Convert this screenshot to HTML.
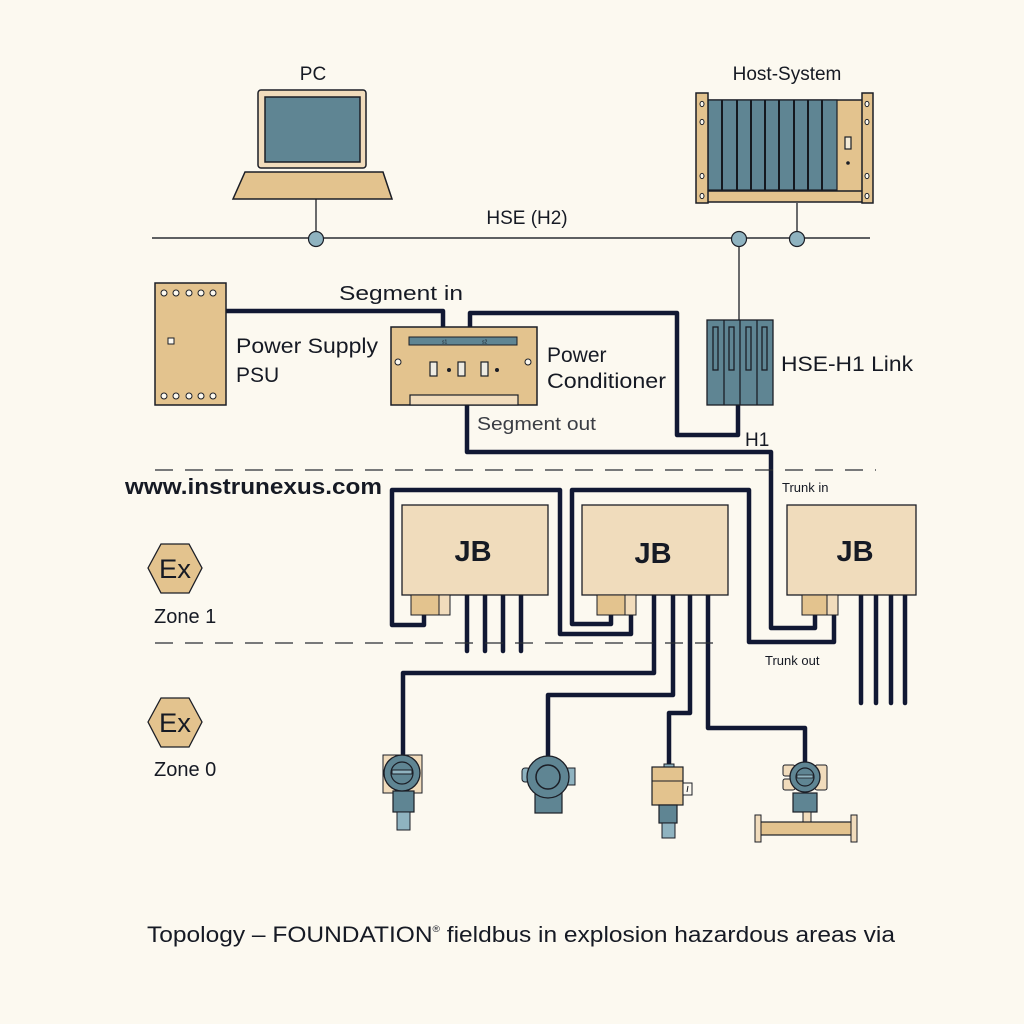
<!DOCTYPE html>
<html>
<head>
<meta charset="utf-8">
<style>
html,body{margin:0;padding:0;background:#fcf9f0;}
svg{display:block;}
text{font-family:"Liberation Sans",Arial,sans-serif;fill:#161a24;}
</style>
</head>
<body>
<svg width="1024" height="1024" viewBox="0 0 1024 1024" xmlns="http://www.w3.org/2000/svg">
<rect width="1024" height="1024" fill="#fcf9f0"/>

<!-- PC -->
<text x="313" y="80" font-size="19" text-anchor="middle">PC</text>
<rect x="258" y="90" width="108" height="78" rx="3" fill="#f1dcbc" stroke="#1b1e26" stroke-width="1.5"/>
<rect x="265" y="97" width="95" height="65" fill="#5f8593" stroke="#1b1e26" stroke-width="1.5"/>
<polygon points="245,172 383,172 392,199 233,199" fill="#e3c38e" stroke="#1b1e26" stroke-width="1.5"/>
<line x1="316" y1="199" x2="316" y2="238" stroke="#1b1e26" stroke-width="1.3"/>

<!-- HSE line -->
<line x1="152" y1="238" x2="870" y2="238" stroke="#2a2d33" stroke-width="1.4"/>
<text x="527" y="224" font-size="19" text-anchor="middle">HSE (H2)</text>

<!-- Host-System -->
<text x="787" y="80" font-size="19" text-anchor="middle">Host-System</text>
<rect x="706" y="100" width="158" height="102" fill="#e3c38e" stroke="#1b1e26" stroke-width="1.5"/>
<rect x="708" y="100" width="129" height="90" fill="#5f8593" stroke="#1b1e26" stroke-width="1.2"/>
<g stroke="#15191f" stroke-width="2">
<line x1="722" y1="100" x2="722" y2="190"/>
<line x1="737" y1="100" x2="737" y2="190"/>
<line x1="751" y1="100" x2="751" y2="190"/>
<line x1="765" y1="100" x2="765" y2="190"/>
<line x1="779" y1="100" x2="779" y2="190"/>
<line x1="794" y1="100" x2="794" y2="190"/>
<line x1="808" y1="100" x2="808" y2="190"/>
<line x1="822" y1="100" x2="822" y2="190"/>
</g>
<line x1="708" y1="191" x2="862" y2="191" stroke="#1b1e26" stroke-width="1.5"/>
<rect x="845" y="137" width="6" height="12" fill="#f3ead6" stroke="#1b1e26" stroke-width="1.2"/>
<circle cx="848" cy="163" r="1.8" fill="#1b1e26"/>
<rect x="696" y="93" width="12" height="110" fill="#e3c38e" stroke="#1b1e26" stroke-width="1.5"/>
<rect x="862" y="93" width="11" height="110" fill="#e3c38e" stroke="#1b1e26" stroke-width="1.5"/>
<g fill="#fcf9f0" stroke="#1b1e26" stroke-width="1">
<ellipse cx="702" cy="104" rx="2" ry="2.6"/><ellipse cx="702" cy="122" rx="2" ry="2.6"/>
<ellipse cx="702" cy="176" rx="2" ry="2.6"/><ellipse cx="702" cy="196" rx="2" ry="2.6"/>
<ellipse cx="867" cy="104" rx="2" ry="2.6"/><ellipse cx="867" cy="122" rx="2" ry="2.6"/>
<ellipse cx="867" cy="176" rx="2" ry="2.6"/><ellipse cx="867" cy="196" rx="2" ry="2.6"/>
</g>
<line x1="797" y1="203" x2="797" y2="238" stroke="#1b1e26" stroke-width="1.3"/>
<line x1="739" y1="238" x2="739" y2="320" stroke="#1b1e26" stroke-width="1.3"/>

<!-- HSE nodes -->
<g fill="#8fb3c0" stroke="#1b1e26" stroke-width="1.2">
<circle cx="316" cy="239" r="7.5"/>
<circle cx="739" cy="239" r="7.5"/>
<circle cx="797" cy="239" r="7.5"/>
</g>

<!-- Thick wires -->
<g fill="none" stroke="#111833" stroke-width="4.5" stroke-linejoin="round" stroke-linecap="round">
<!-- Segment in -->
<polyline points="226,311 443,311 443,327"/>
<!-- H1 to conditioner -->
<polyline points="738,405 738,435 677,435 677,313 470,313 470,327"/>
<!-- segment out / trunk in to JB3 -->
<polyline points="467,405 467,452 771,452 771,628 815,628 815,615"/>
<!-- JB1 loop -->
<polyline points="424,615 424,625 392,625 392,490 560,490 560,634 631,634 631,615"/>
<!-- JB2 loop -->
<polyline points="611,615 611,624 572,624 572,490 749,490 749,642 834,642 834,615"/>
<!-- JB1 drops -->
<line x1="467" y1="595" x2="467" y2="651"/>
<line x1="485" y1="595" x2="485" y2="651"/>
<line x1="503" y1="595" x2="503" y2="651"/>
<line x1="521" y1="595" x2="521" y2="651"/>
<!-- JB2 drops to devices -->
<polyline points="654,595 654,673 403,673 403,755"/>
<polyline points="673,595 673,695 548,695 548,757"/>
<polyline points="690,595 690,713 669,713 669,766"/>
<polyline points="708,595 708,728 805,728 805,764"/>
<!-- JB3 drops -->
<line x1="861" y1="595" x2="861" y2="703"/>
<line x1="876" y1="595" x2="876" y2="703"/>
<line x1="891" y1="595" x2="891" y2="703"/>
<line x1="905" y1="595" x2="905" y2="703"/>
</g>

<!-- PSU -->
<rect x="155" y="283" width="71" height="122" fill="#e3c38e" stroke="#1b1e26" stroke-width="1.5"/>
<g fill="#fcf9f0" stroke="#1b1e26" stroke-width="1">
<circle cx="164" cy="293" r="3"/><circle cx="176" cy="293" r="3"/><circle cx="189" cy="293" r="3"/><circle cx="201" cy="293" r="3"/><circle cx="213" cy="293" r="3"/>
<circle cx="164" cy="396" r="3"/><circle cx="176" cy="396" r="3"/><circle cx="189" cy="396" r="3"/><circle cx="201" cy="396" r="3"/><circle cx="213" cy="396" r="3"/>
<rect x="168" y="338" width="6" height="6"/>
</g>
<text x="236" y="353" font-size="21" textLength="142" lengthAdjust="spacingAndGlyphs">Power Supply</text>
<text x="236" y="382" font-size="21">PSU</text>
<text x="339" y="300" font-size="20" textLength="124" lengthAdjust="spacingAndGlyphs">Segment in</text>

<!-- Power Conditioner -->
<rect x="391" y="327" width="146" height="78" fill="#e3c38e" stroke="#1b1e26" stroke-width="1.5"/>
<rect x="409" y="337" width="108" height="8" fill="#5f8593" stroke="#1b1e26" stroke-width="1"/>
<text x="442" y="343.5" font-size="5" style="fill:#1b1e26">s1</text>
<text x="482" y="343.5" font-size="5" style="fill:#1b1e26">s2</text>
<circle cx="398" cy="362" r="3" fill="#fcf9f0" stroke="#1b1e26" stroke-width="1"/>
<circle cx="528" cy="362" r="3" fill="#fcf9f0" stroke="#1b1e26" stroke-width="1"/>
<g fill="#eeebe2" stroke="#1b1e26" stroke-width="1.2">
<rect x="430" y="362" width="7" height="14"/>
<rect x="458" y="362" width="7" height="14"/>
<rect x="481" y="362" width="7" height="14"/>
</g>
<circle cx="449" cy="370" r="2" fill="#1b1e26"/>
<circle cx="497" cy="370" r="2" fill="#1b1e26"/>
<rect x="410" y="395" width="108" height="10" fill="#f1dcbc" stroke="#1b1e26" stroke-width="1.2"/>
<text x="547" y="362" font-size="21">Power</text>
<text x="547" y="388" font-size="21" textLength="119" lengthAdjust="spacingAndGlyphs">Conditioner</text>
<text x="477" y="430" font-size="18" textLength="119" lengthAdjust="spacingAndGlyphs" style="fill:#3a3d44">Segment out</text>

<!-- HSE-H1 Link -->
<rect x="707" y="320" width="66" height="85" fill="#5f8593" stroke="#1b1e26" stroke-width="1.3"/>
<g stroke="#1b1e26" stroke-width="1.3" fill="none">
<line x1="724" y1="320" x2="724" y2="405"/>
<line x1="740" y1="320" x2="740" y2="405"/>
<line x1="757" y1="320" x2="757" y2="405"/>
<rect x="713" y="327" width="5" height="43"/>
<rect x="729" y="327" width="5" height="43"/>
<rect x="746" y="327" width="5" height="43"/>
<rect x="762" y="327" width="5" height="43"/>
</g>
<text x="781" y="371" font-size="21" textLength="132" lengthAdjust="spacingAndGlyphs">HSE-H1 Link</text>
<text x="745" y="446" font-size="19">H1</text>

<!-- Dashed lines -->
<line x1="155" y1="470" x2="876" y2="470" stroke="#2a2d33" stroke-width="1.3" stroke-dasharray="18,12"/>
<line x1="155" y1="643" x2="722" y2="643" stroke="#2a2d33" stroke-width="1.3" stroke-dasharray="18,12"/>

<text x="125" y="494" font-size="22" font-weight="bold" textLength="257" lengthAdjust="spacingAndGlyphs">www.instrunexus.com</text>

<!-- Ex zones -->
<polygon points="148,568 161,544 189,544 202,568 189,593 161,593" fill="#e3c38e" stroke="#1b1e26" stroke-width="1.3"/>
<text x="175" y="578" font-size="27" text-anchor="middle" textLength="32" lengthAdjust="spacingAndGlyphs">Ex</text>
<text x="154" y="623" font-size="20">Zone 1</text>
<polygon points="148,722 161,698 189,698 202,722 189,747 161,747" fill="#e3c38e" stroke="#1b1e26" stroke-width="1.3"/>
<text x="175" y="732" font-size="27" text-anchor="middle" textLength="32" lengthAdjust="spacingAndGlyphs">Ex</text>
<text x="154" y="776" font-size="20">Zone 0</text>

<!-- JB boxes -->
<rect x="402" y="505" width="146" height="90" fill="#f0dcbc" stroke="#1b1e26" stroke-width="1.3"/>
<text x="473" y="561" font-size="29" font-weight="bold" text-anchor="middle">JB</text>
<rect x="411" y="595" width="28" height="20" fill="#e3c38e" stroke="#1b1e26" stroke-width="1"/>
<rect x="439" y="595" width="11" height="20" fill="#f1dcbc" stroke="#1b1e26" stroke-width="1"/>

<rect x="582" y="505" width="146" height="90" fill="#f0dcbc" stroke="#1b1e26" stroke-width="1.3"/>
<text x="653" y="563" font-size="29" font-weight="bold" text-anchor="middle">JB</text>
<rect x="597" y="595" width="28" height="20" fill="#e3c38e" stroke="#1b1e26" stroke-width="1"/>
<rect x="625" y="595" width="11" height="20" fill="#f1dcbc" stroke="#1b1e26" stroke-width="1"/>

<rect x="787" y="505" width="129" height="90" fill="#f0dcbc" stroke="#1b1e26" stroke-width="1.3"/>
<text x="855" y="561" font-size="29" font-weight="bold" text-anchor="middle">JB</text>
<rect x="802" y="595" width="25" height="20" fill="#e3c38e" stroke="#1b1e26" stroke-width="1"/>
<rect x="827" y="595" width="11" height="20" fill="#f1dcbc" stroke="#1b1e26" stroke-width="1"/>

<text x="782" y="492" font-size="13">Trunk in</text>
<text x="765" y="665" font-size="13">Trunk out</text>

<!-- Device 1 -->
<rect x="383" y="755" width="39" height="38" fill="#f1dcbc" stroke="#1b1e26" stroke-width="1"/>
<rect x="393" y="791" width="21" height="21" fill="#5f8593" stroke="#1b1e26" stroke-width="1.2"/>
<rect x="397" y="812" width="13" height="18" fill="#8fb3c0" stroke="#1b1e26" stroke-width="1"/>
<circle cx="402" cy="773" r="18" fill="#5f8593" stroke="#1b1e26" stroke-width="1.3"/>
<circle cx="402" cy="773" r="11" fill="#5f8593" stroke="#1b1e26" stroke-width="1.2"/>
<rect x="392" y="770" width="20" height="4" fill="#8fb3c0" stroke="#1b1e26" stroke-width="1"/>

<!-- Device 2 -->
<rect x="522" y="768" width="8" height="14" rx="3" fill="#8fb3c0" stroke="#1b1e26" stroke-width="1"/>
<rect x="567" y="768" width="8" height="17" fill="#8fb3c0" stroke="#1b1e26" stroke-width="1"/>
<rect x="535" y="793" width="27" height="20" fill="#5f8593" stroke="#1b1e26" stroke-width="1.2"/>
<circle cx="548" cy="777" r="21" fill="#5f8593" stroke="#1b1e26" stroke-width="1.3"/>
<circle cx="548" cy="777" r="12" fill="#5f8593" stroke="#1b1e26" stroke-width="1.5"/>

<!-- Device 3 -->
<rect x="664" y="764" width="10" height="4" fill="#8fb3c0" stroke="#1b1e26" stroke-width="1"/>
<rect x="652" y="767" width="31" height="38" fill="#e3c38e" stroke="#1b1e26" stroke-width="1.2"/>
<line x1="652" y1="781" x2="683" y2="781" stroke="#1b1e26" stroke-width="1"/>
<rect x="683" y="783" width="9" height="12" fill="#fcf9f0" stroke="#1b1e26" stroke-width="1"/>
<line x1="688" y1="786" x2="687" y2="792" stroke="#1b1e26" stroke-width="1"/>
<rect x="659" y="805" width="18" height="18" fill="#5f8593" stroke="#1b1e26" stroke-width="1.2"/>
<rect x="662" y="823" width="13" height="15" fill="#8fb3c0" stroke="#1b1e26" stroke-width="1"/>

<!-- Device 4 (flow meter) -->
<rect x="783" y="765" width="12" height="11" rx="2" fill="#f1dcbc" stroke="#1b1e26" stroke-width="1"/>
<rect x="783" y="779" width="12" height="11" rx="2" fill="#f1dcbc" stroke="#1b1e26" stroke-width="1"/>
<rect x="815" y="765" width="12" height="25" rx="2" fill="#f1dcbc" stroke="#1b1e26" stroke-width="1"/>
<rect x="793" y="793" width="24" height="19" fill="#5f8593" stroke="#1b1e26" stroke-width="1.2"/>
<rect x="803" y="812" width="8" height="10" fill="#f1dcbc" stroke="#1b1e26" stroke-width="1"/>
<circle cx="805" cy="777" r="15" fill="#5f8593" stroke="#1b1e26" stroke-width="1.3"/>
<circle cx="805" cy="777" r="9" fill="#5f8593" stroke="#1b1e26" stroke-width="1.2"/>
<rect x="797" y="775" width="16" height="3" fill="#8fb3c0" stroke="#1b1e26" stroke-width="0.8"/>
<rect x="760" y="822" width="93" height="13" fill="#e3c38e" stroke="#1b1e26" stroke-width="1.2"/>
<rect x="755" y="815" width="6" height="27" fill="#f1dcbc" stroke="#1b1e26" stroke-width="1"/>
<rect x="851" y="815" width="6" height="27" fill="#f1dcbc" stroke="#1b1e26" stroke-width="1"/>

<!-- Caption -->
<text x="147" y="942" font-size="22" textLength="748" lengthAdjust="spacingAndGlyphs">Topology – FOUNDATION<tspan font-size="9" dy="-10">®</tspan><tspan dy="10"> fieldbus in explosion hazardous areas via</tspan></text>
</svg>
</body>
</html>
